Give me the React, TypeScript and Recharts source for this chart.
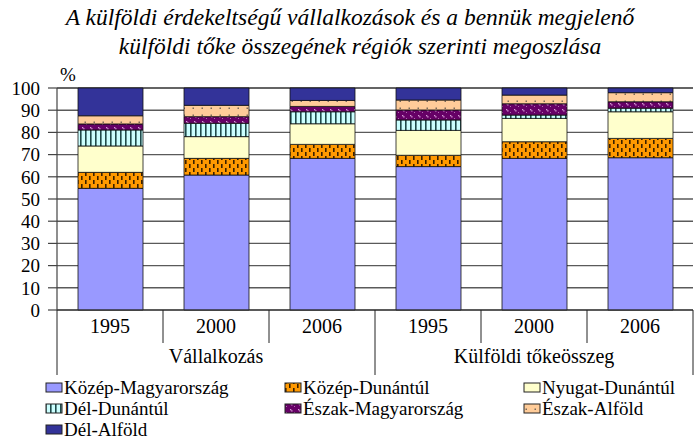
import React from 'react';
import { BarChart, Bar, XAxis, YAxis, CartesianGrid } from 'recharts';

const categories = ['1995', '2000', '2006', '1995', '2000', '2006'];
const groups = ['Vállalkozás', 'Vállalkozás', 'Vállalkozás', 'Külföldi tőkeösszeg', 'Külföldi tőkeösszeg', 'Külföldi tőkeösszeg'];
const kozepMagyar = [54.8, 60.8, 68.3, 64.6, 68.3, 68.6];
const kozepDunantul = [7.2, 7.5, 6.3, 5.1, 7.5, 8.7];
const nyugatDunantul = [11.9, 9.8, 9.3, 11.2, 10.5, 12.0];
const delDunantul = [7.2, 6.0, 5.4, 4.7, 1.5, 1.6];
const eszakMagyar = [2.7, 3.0, 2.4, 4.5, 5.1, 2.9];
const eszakAlfold = [3.7, 5.1, 2.7, 4.5, 3.9, 4.1];
const delAlfold = [12.5, 7.8, 5.6, 5.4, 3.2, 2.1];
const yTicks = [0, 10, 20, 30, 40, 50, 60, 70, 80, 90, 100];

const series = [
  { key: 'km', name: 'Közép-Magyarország', values: kozepMagyar, fill: 'url(#pKM)' },
  { key: 'kd', name: 'Közép-Dunántúl', values: kozepDunantul, fill: 'url(#pKD)' },
  { key: 'nd', name: 'Nyugat-Dunántúl', values: nyugatDunantul, fill: '#FFFFCC' },
  { key: 'dd', name: 'Dél-Dunántúl', values: delDunantul, fill: 'url(#pDD)' },
  { key: 'em', name: 'Észak-Magyarország', values: eszakMagyar, fill: 'url(#pEM)' },
  { key: 'ea', name: 'Észak-Alföld', values: eszakAlfold, fill: 'url(#pEA)' },
  { key: 'da', name: 'Dél-Alföld', values: delAlfold, fill: '#333399' },
];

const data = categories.map((c, i) => {
  const row: any = { id: `${groups[i]}-${c}`, year: c, group: groups[i] };
  series.forEach((s) => { row[s.key] = s.values[i]; });
  return row;
});

const W = 698;
const H = 441;
const LEFT = 57;
const RIGHT = 5;
const TOP = 88;
const BOTTOM_TOTAL = 131;
const BAND = (W - LEFT - RIGHT) / categories.length;
const FONT = "'Liberation Serif', serif";
const serif = { fontFamily: FONT };

const Defs = () => (
  <defs>
    <pattern id="pKM" width="8" height="8" patternUnits="userSpaceOnUse">
      <rect width="8" height="8" fill="#9999FF" />
    </pattern>
    <pattern id="pKD" width="8" height="8" patternUnits="userSpaceOnUse">
      <rect width="8" height="8" fill="#FF9900" />
      <rect x="1" y="0" width="1.6" height="4" fill="#3a2000" />
      <rect x="5" y="4" width="1.6" height="4" fill="#3a2000" />
    </pattern>
    <pattern id="pDD" width="5" height="5" patternUnits="userSpaceOnUse">
      <rect width="5" height="5" fill="#CCFFFF" />
      <rect x="0" y="0" width="1.6" height="5" fill="#1f4a4a" />
    </pattern>
    <pattern id="pEM" width="8" height="6" patternUnits="userSpaceOnUse">
      <rect width="8" height="6" fill="#660066" />
      <rect x="2" y="1" width="1.3" height="1.3" fill="#D9A0D9" />
      <rect x="3.2" y="2.2" width="1.3" height="1.3" fill="#D9A0D9" />
      <rect x="6" y="4" width="1" height="1" fill="#B070B0" />
    </pattern>
    <pattern id="pEA" width="9" height="7" patternUnits="userSpaceOnUse">
      <rect width="9" height="7" fill="#FFCC99" />
      <rect x="3.5" y="2.5" width="1.5" height="1.5" fill="#7a6a5a" />
    </pattern>
  </defs>
);

const XTick = (props: any) => {
  const { x, y, payload } = props;
  const i = payload.index;
  const left = x - BAND / 2;
  const right = x + BAND / 2;
  const isGroupStart = i === 0 || i === 3;
  return (
    <g>
      <line x1={left} x2={left} y1={y} y2={isGroupStart ? y + 65 : y + 33} stroke="#222" strokeWidth={1} />
      {i === categories.length - 1 && (
        <line x1={right} x2={right} y1={y} y2={y + 65} stroke="#222" strokeWidth={1} />
      )}
      <text x={x} y={y + 23} textAnchor="middle" style={serif} fontSize={20} fill="#000">
        {categories[i]}
      </text>
      {(i === 1 || i === 4) && (
        <text x={x} y={y + 53} textAnchor="middle" style={serif} fontSize={20} fill="#000">
          {groups[i]}
        </text>
      )}
    </g>
  );
};

const legendPos = [
  { x: 46, row: 0 }, { x: 285, row: 0 }, { x: 524, row: 0 },
  { x: 46, row: 1 }, { x: 285, row: 1 }, { x: 524, row: 1 },
  { x: 46, row: 2 },
];

export default function App() {
  return (
    <div style={{ position: 'absolute', left: 0, top: 0, width: W, height: H, background: '#fff', fontFamily: FONT }}>
      <BarChart
        width={W}
        height={H}
        data={data}
        margin={{ top: TOP, right: RIGHT, left: 0, bottom: BOTTOM_TOTAL - 70 }}
        barSize={65}
        style={serif}
      >
        <Defs />
        <CartesianGrid vertical={false} stroke="#5a5a5a" strokeWidth={1.4} />
        <XAxis
          dataKey="id"
          height={70}
          tickLine={false}
          tickSize={0}
          tickMargin={0}
          interval={0}
          axisLine={{ stroke: '#333', strokeWidth: 1.2 }}
          tick={<XTick />}
        />
        <YAxis
          width={LEFT}
          domain={[0, 100]}
          ticks={yTicks}
          interval={0}
          tickSize={9}
          tickMargin={8}
          axisLine={{ stroke: '#444', strokeWidth: 1.2 }}
          tickLine={{ stroke: '#444', strokeWidth: 1.2 }}
          tick={{ fontFamily: FONT, fontSize: 19, fill: '#000' }}
        />
        {series.map((s) => (
          <Bar
            key={s.key}
            dataKey={s.key}
            name={s.name}
            stackId="a"
            fill={s.fill}
            stroke="#111"
            strokeWidth={0.8}
            isAnimationActive={false}
          />
        ))}
      </BarChart>
      <svg width={W} height={H} style={{ position: 'absolute', left: 0, top: 0, pointerEvents: 'none', fontFamily: FONT }}>
        <text x={350} y={25} textAnchor="middle" style={{ fontFamily: FONT, fontStyle: 'italic' }} fontSize={23.5} fill="#000">
          A külföldi érdekeltségű vállalkozások és a bennük megjelenő
        </text>
        <text x={360} y={54} textAnchor="middle" style={{ fontFamily: FONT, fontStyle: 'italic' }} fontSize={23.5} fill="#000">
          külföldi tőke összegének régiók szerinti megoszlása
        </text>
        <text x={68} y={81} textAnchor="middle" style={serif} fontSize={19} fill="#000">%</text>
        {series.map((s, i) => {
          const p = legendPos[i];
          const base = 394 + p.row * 21;
          return (
            <g key={s.key}>
              <rect x={p.x} y={base - 11} width={16} height={9} fill={s.fill} stroke="#222" strokeWidth={1} />
              <text x={p.x + 18} y={base} style={serif} fontSize={19} fill="#000">{s.name}</text>
            </g>
          );
        })}
      </svg>
    </div>
  );
}
